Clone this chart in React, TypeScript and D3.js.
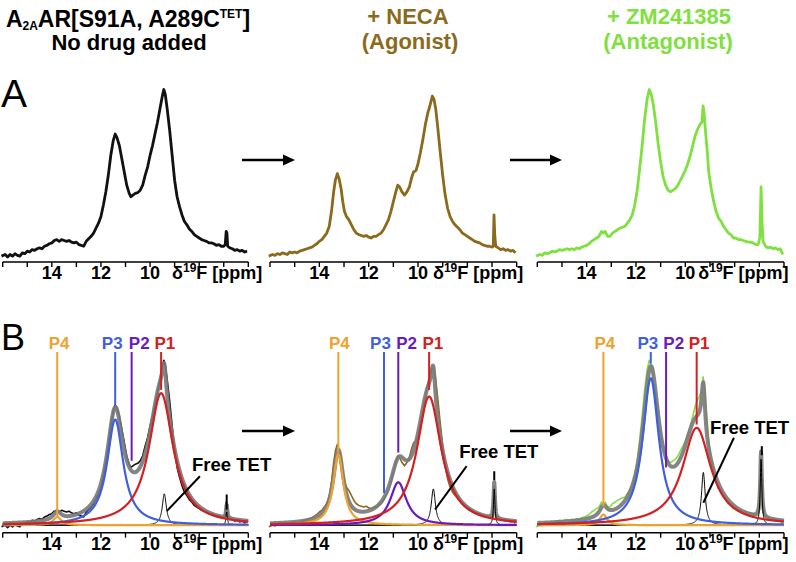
import React from 'react';
import * as d3 from 'd3';

type Pt = [number, number];

// chemical shift axis (ppm), drawn high -> low
const ppmTicks = [16, 15, 14, 13, 12, 11, 10, 9, 8, 7, 6];
const ppmTickLabels = [14, 12, 10];

// measured 19F spectra (ppm, normalised intensity)
const noDrugSpectrum: Pt[] = [
  [16.05, -0.01], [15.9, 0.0], [15.8, -0.015], [15.7, 0.0], [15.6, -0.01], [15.5, 0.005], [15.4, -0.005], [15.3, -0.01],
  [15.2, 0.01], [15.1, 0.005], [15.0, 0.02], [14.9, 0.015], [14.8, 0.03], [14.7, 0.025], [14.6, 0.035], [14.5, 0.04],
  [14.4, 0.035], [14.3, 0.05], [14.2, 0.055], [14.1, 0.065], [14.0, 0.07], [13.9, 0.085], [13.8, 0.09], [13.7, 0.08],
  [13.6, 0.09], [13.5, 0.085], [13.4, 0.08], [13.3, 0.085], [13.2, 0.075], [13.1, 0.07], [13.0, 0.075], [12.9, 0.06],
  [12.8, 0.055], [12.7, 0.05], [12.6, 0.08], [12.5, 0.095], [12.4, 0.11], [12.3, 0.13], [12.2, 0.16], [12.1, 0.19],
  [12.0, 0.23], [11.9, 0.3], [11.8, 0.38], [11.7, 0.48], [11.6, 0.6], [11.5, 0.69], [11.42, 0.73], [11.35, 0.71],
  [11.25, 0.66], [11.15, 0.58], [11.05, 0.5], [10.95, 0.42], [10.85, 0.37], [10.78, 0.35], [10.7, 0.36], [10.6, 0.37],
  [10.5, 0.375], [10.4, 0.39], [10.3, 0.42], [10.2, 0.48], [10.1, 0.53], [10.0, 0.6], [9.9, 0.66], [9.8, 0.73],
  [9.7, 0.8], [9.6, 0.88], [9.5, 0.96], [9.44, 1.0], [9.38, 0.97], [9.3, 0.88], [9.2, 0.75], [9.1, 0.6],
  [9.0, 0.45], [8.9, 0.35], [8.8, 0.29], [8.7, 0.24], [8.6, 0.2], [8.5, 0.18], [8.4, 0.155], [8.3, 0.14],
  [8.2, 0.12], [8.1, 0.11], [8.0, 0.1], [7.9, 0.09], [7.8, 0.085], [7.7, 0.08], [7.6, 0.07], [7.5, 0.07],
  [7.4, 0.065], [7.3, 0.055], [7.2, 0.06], [7.1, 0.05], [7.0, 0.05], [6.94, 0.06], [6.9, 0.14], [6.87, 0.13],
  [6.84, 0.05], [6.75, 0.04], [6.65, 0.035], [6.55, 0.025], [6.45, 0.03], [6.35, 0.02], [6.25, 0.025], [6.15, 0.015],
  [6.05, 0.02],
];

const necaSpectrum: Pt[] = [
  [16.05, -0.01], [15.9, 0.0], [15.8, -0.005], [15.7, 0.005], [15.6, 0.0], [15.5, 0.01], [15.4, 0.005], [15.3, 0.0],
  [15.2, 0.015], [15.1, 0.01], [15.0, 0.015], [14.9, 0.01], [14.8, 0.02], [14.7, 0.025], [14.6, 0.03], [14.5, 0.035],
  [14.4, 0.04], [14.3, 0.045], [14.2, 0.055], [14.1, 0.065], [14.0, 0.08], [13.9, 0.09], [13.8, 0.11], [13.7, 0.13],
  [13.6, 0.17], [13.5, 0.27], [13.42, 0.38], [13.35, 0.45], [13.27, 0.49], [13.2, 0.46], [13.12, 0.4], [13.05, 0.32],
  [12.98, 0.26], [12.9, 0.23], [12.8, 0.21], [12.7, 0.18], [12.6, 0.15], [12.5, 0.13], [12.4, 0.12], [12.3, 0.115],
  [12.2, 0.11], [12.1, 0.115], [12.0, 0.105], [11.9, 0.1], [11.8, 0.11], [11.7, 0.11], [11.6, 0.12], [11.5, 0.13],
  [11.4, 0.15], [11.3, 0.18], [11.2, 0.21], [11.1, 0.26], [11.0, 0.32], [10.9, 0.38], [10.82, 0.42], [10.75, 0.41],
  [10.65, 0.38], [10.55, 0.36], [10.45, 0.38], [10.35, 0.41], [10.25, 0.47], [10.18, 0.5], [10.08, 0.51], [10.0, 0.55],
  [9.9, 0.62], [9.8, 0.7], [9.7, 0.79], [9.6, 0.86], [9.52, 0.9], [9.42, 0.96], [9.35, 0.94], [9.28, 0.88],
  [9.2, 0.77], [9.1, 0.62], [9.0, 0.48], [8.9, 0.36], [8.8, 0.28], [8.7, 0.23], [8.6, 0.2], [8.5, 0.18],
  [8.4, 0.165], [8.3, 0.15], [8.2, 0.13], [8.1, 0.12], [8.0, 0.11], [7.9, 0.1], [7.8, 0.09], [7.7, 0.08],
  [7.6, 0.075], [7.5, 0.07], [7.4, 0.06], [7.3, 0.055], [7.2, 0.05], [7.1, 0.05], [7.0, 0.045], [6.95, 0.05],
  [6.92, 0.24], [6.89, 0.12], [6.85, 0.05], [6.75, 0.04], [6.65, 0.03], [6.55, 0.035], [6.45, 0.025], [6.35, 0.03],
  [6.25, 0.02], [6.15, 0.025], [6.05, 0.01],
];

const zmSpectrum: Pt[] = [
  [16.05, -0.01], [15.9, 0.0], [15.8, -0.005], [15.7, 0.01], [15.6, 0.005], [15.5, 0.01], [15.4, 0.02], [15.3, 0.015],
  [15.2, 0.02], [15.1, 0.03], [15.0, 0.025], [14.9, 0.03], [14.8, 0.035], [14.7, 0.03], [14.6, 0.035], [14.5, 0.03],
  [14.4, 0.04], [14.3, 0.035], [14.2, 0.045], [14.1, 0.05], [14.0, 0.055], [13.9, 0.065], [13.8, 0.08], [13.7, 0.09],
  [13.6, 0.1], [13.5, 0.11], [13.4, 0.14], [13.33, 0.13], [13.25, 0.14], [13.15, 0.11], [13.06, 0.11], [12.95, 0.13],
  [12.85, 0.14], [12.75, 0.15], [12.65, 0.16], [12.55, 0.165], [12.45, 0.17], [12.35, 0.19], [12.25, 0.21], [12.15, 0.24],
  [12.05, 0.3], [11.95, 0.39], [11.85, 0.52], [11.75, 0.66], [11.65, 0.82], [11.55, 0.94], [11.46, 1.0], [11.38, 0.97],
  [11.3, 0.91], [11.2, 0.8], [11.1, 0.67], [11.0, 0.56], [10.9, 0.47], [10.8, 0.42], [10.7, 0.39], [10.6, 0.38],
  [10.5, 0.39], [10.4, 0.4], [10.3, 0.42], [10.2, 0.45], [10.1, 0.48], [10.0, 0.51], [9.9, 0.55], [9.8, 0.6],
  [9.7, 0.66], [9.6, 0.72], [9.5, 0.76], [9.4, 0.79], [9.33, 0.8], [9.28, 0.9], [9.24, 0.86], [9.19, 0.76],
  [9.12, 0.64], [9.05, 0.5], [8.95, 0.4], [8.85, 0.32], [8.75, 0.26], [8.65, 0.22], [8.55, 0.2], [8.45, 0.17],
  [8.35, 0.15], [8.25, 0.13], [8.15, 0.12], [8.05, 0.1], [7.95, 0.1], [7.85, 0.09], [7.75, 0.09], [7.65, 0.085],
  [7.55, 0.08], [7.45, 0.075], [7.35, 0.075], [7.25, 0.07], [7.15, 0.06], [7.05, 0.06], [6.98, 0.1], [6.93, 0.41],
  [6.89, 0.2], [6.85, 0.08], [6.75, 0.05], [6.65, 0.04], [6.55, 0.045], [6.45, 0.035], [6.35, 0.04], [6.25, 0.03],
  [6.15, 0.035], [6.05, 0.0],
];

// Lorentzian deconvolution: P4, P3, P2, P1 (center ppm, height, half width)
const fitNames = ['P4', 'P3', 'P2', 'P1'];
const noDrugCenters = [13.78, 11.42, 10.75, 9.55];
const noDrugHeights = [0.05, 0.64, 0, 0.8];
const noDrugWidths = [0.2, 0.4, 0.4, 0.6];
const noDrugLabelEnds = [0.05, 0.73, 0.39, 0.82];
const noDrugLabelPpm = [13.7, 11.54, 10.44, 9.4];
const noDrugTet = [[9.42, 0.19, 0.1], [6.88, 0.08, 0.035]];

const necaCenters = [13.23, 11.38, 10.8, 9.55];
const necaHeights = [0.43, 0, 0.26, 0.78];
const necaWidths = [0.25, 0.4, 0.4, 0.6];
const necaLabelEnds = [0.44, 0.195, 0.44, 0.82];
const necaLabelPpm = [13.19, 11.52, 10.46, 9.4];
const necaTet = [[9.38, 0.22, 0.1], [6.91, 0.22, 0.035]];

const zmCenters = [13.32, 11.4, 10.78, 9.54];
const zmHeights = [0.065, 0.89, 0, 0.59];
const zmWidths = [0.18, 0.4, 0.4, 0.7];
const zmLabelEnds = [0.115, 0.98, 0.35, 0.61];
const zmLabelPpm = [13.26, 11.52, 10.47, 9.44];
const zmTet = [[9.27, 0.32, 0.09], [6.93, 0.4, 0.04]];

// "Free TET" annotation: text anchor, pointer from/to, tick from/to (ppm, intensity)
const tetText = [[8.29, 0.33], [8.33, 0.41], [9.0, 0.55]];
const tetPointer = [[7.97, 0.297, 9.32, 0.085], [8.03, 0.358, 9.31, 0.095], [8.03, 0.53, 9.27, 0.136]];
const tetTick = [[6.88, 0.186, 0.095], [6.91, 0.327, 0.273], [6.9, 0.479, 0.424]];

const fitColors = ['#f0a22e', '#3f5fe0', '#6a1bbf', '#d42020'];
const traceColors = ['#111111', '#8c6a1c', '#80e040'];
const font = "'Liberation Sans', Arial, sans-serif";

const panelX: [number, number][] = [[2.7, 248.3], [270, 516.7], [537.3, 784]];
const unitGap = [22, 15, 13];
const rowAxisY = [262, 532.7];

const lorentz = (x: number, c: number, h: number, w: number) => h / (1 + ((x - c) / w) ** 2);
const grid = d3.range(16, 5.999, -0.005);

function Axis({ x, y, gap }: { x: d3.ScaleLinear<number, number>; y: number; gap: number }) {
  return (
    <g>
      <line x1={x(16)} x2={x(6)} y1={y} y2={y} stroke="#000" strokeWidth={1.6} />
      {ppmTicks.map(t => (
        <line key={t} x1={x(t)} x2={x(t)} y1={y} y2={y + 5} stroke="#000" strokeWidth={1.4} />
      ))}
      {ppmTickLabels.map(t => (
        <text key={t} x={x(t)} y={y + 17} textAnchor="middle" fontSize={18} fontWeight="bold" fontFamily={font}>{t}</text>
      ))}
      <text x={x(10) + gap} y={y + 17} fontSize={18} fontWeight="bold" fontFamily={font}>
        δ<tspan fontSize={12} dy={-7}>19</tspan><tspan dy={7}>F [ppm]</tspan>
      </text>
    </g>
  );
}

function Arrow({ x1, x2, y }: { x1: number; x2: number; y: number }) {
  return (
    <g>
      <line x1={x1} x2={x2 - 9} y1={y} y2={y} stroke="#000" strokeWidth={2.4} />
      <path d={`M${x2},${y} L${x2 - 12},${y - 5.5} L${x2 - 12},${y + 5.5} Z`} fill="#000" />
    </g>
  );
}

const panels = [
  { spec: noDrugSpectrum, c: noDrugCenters, h: noDrugHeights, w: noDrugWidths, ends: noDrugLabelEnds, lab: noDrugLabelPpm, tet: noDrugTet },
  { spec: necaSpectrum, c: necaCenters, h: necaHeights, w: necaWidths, ends: necaLabelEnds, lab: necaLabelPpm, tet: necaTet },
  { spec: zmSpectrum, c: zmCenters, h: zmHeights, w: zmWidths, ends: zmLabelEnds, lab: zmLabelPpm, tet: zmTet },
];

export default function App() {
  return (
    <svg width={796} height={562} style={{ position: 'absolute', left: 0, top: 0, background: '#fff' }}>
      {/* titles */}
      <text x={128} y={27} textAnchor="middle" fontSize={23} fontWeight="bold" fontFamily={font}>
        A<tspan fontSize={12} dy={3}>2A</tspan><tspan dy={-3}>AR[S91A, A289C</tspan><tspan fontSize={12} dy={-9}>TET</tspan><tspan dy={9}>]</tspan>
      </text>
      <text x={129} y={50} textAnchor="middle" fontSize={22} fontWeight="bold" fontFamily={font}>No drug added</text>
      <text x={408} y={24} textAnchor="middle" fontSize={22} fontWeight="bold" fontFamily={font} fill={traceColors[1]}>+ NECA</text>
      <text x={410} y={49} textAnchor="middle" fontSize={22} fontWeight="bold" fontFamily={font} fill={traceColors[1]}>(Agonist)</text>
      <text x={669} y={24} textAnchor="middle" fontSize={22} fontWeight="bold" fontFamily={font} fill={traceColors[2]}>+ ZM241385</text>
      <text x={668} y={49} textAnchor="middle" fontSize={22} fontWeight="bold" fontFamily={font} fill={traceColors[2]}>(Antagonist)</text>

      <text x={1} y={107} fontSize={39} fontFamily={font}>A</text>
      <text x={1} y={350} fontSize={36} fontFamily={font}>B</text>

      <Arrow x1={242} x2={295} y={160} />
      <Arrow x1={510} x2={562} y={160} />
      <Arrow x1={242} x2={295} y={431} />
      <Arrow x1={510} x2={562} y={431} />

      {panels.map((p, i) => {
        const x = d3.scaleLinear().domain([16, 6]).range(panelX[i]);
        const yA = d3.scaleLinear().domain([0, 1]).range([rowAxisY[0] - 7.5, rowAxisY[0] - 172.5]);
        const yB = d3.scaleLinear().domain([0, 1]).range([rowAxisY[1] - 7.5, rowAxisY[1] - 172.5]);
        const lineA = d3.line<Pt>().x(d => x(d[0])).y(d => yA(d[1]));
        const lineB = d3.line<Pt>().x(d => x(d[0])).y(d => yB(d[1]));

        const comps = p.c.map((c, k) => grid.map(g => [g, lorentz(g, c, p.h[k], p.w[k])] as Pt));
        const tets = p.tet.map(t => grid.map(g => [g, lorentz(g, t[0], t[1], t[2])] as Pt));
        const sum: Pt[] = grid.map((g, j) => [g, d3.sum(comps, s => s[j][1]) + d3.sum(tets, s => s[j][1])]);

        return (
          <g key={i}>
            {/* A row: raw spectrum */}
            <path d={lineA(p.spec) ?? ''} fill="none" stroke={traceColors[i]} strokeWidth={2.8} strokeLinejoin="round" />
            <Axis x={x} y={rowAxisY[0]} gap={unitGap[i]} />

            {/* B row: spectrum with deconvolution */}
            <path d={lineB(p.spec) ?? ''} fill="none" stroke={traceColors[i]} strokeWidth={1.6} strokeLinejoin="round" />
            <line x1={x(16)} x2={x(6)} y1={yB(0)} y2={yB(0)} stroke="#8a6420" strokeWidth={1} />
            <path d={lineB(sum) ?? ''} fill="none" stroke="#7b7b7b" strokeOpacity={0.92} strokeWidth={4} strokeLinejoin="round" />
            {tets.map((t, k) => (
              <path key={'t' + k} d={lineB(t) ?? ''} fill="none" stroke="#000" strokeWidth={1} />
            ))}
            {comps.map((cp, k) => p.h[k] > 0 && (
              <path key={'c' + k} d={lineB(cp) ?? ''} fill="none" stroke={fitColors[k]} strokeWidth={2.2} />
            ))}
            {fitNames.map((n, k) => (
              <g key={n}>
                <line x1={x(p.c[k])} x2={x(p.c[k])} y1={352} y2={yB(p.ends[k])} stroke={fitColors[k]} strokeWidth={2} />
                <text x={x(p.lab[k])} y={349} textAnchor="middle" fontSize={17} fontWeight="bold" fontFamily={font} fill={fitColors[k]}>{n}</text>
              </g>
            ))}
            <text x={x(tetText[i][0])} y={yB(tetText[i][1])} fontSize={18.5} fontWeight="bold" fontFamily={font}>Free TET</text>
            <line x1={x(tetPointer[i][0])} y1={yB(tetPointer[i][1])} x2={x(tetPointer[i][2])} y2={yB(tetPointer[i][3])} stroke="#000" strokeWidth={2} />
            <line x1={x(tetTick[i][0])} y1={yB(tetTick[i][1])} x2={x(tetTick[i][0])} y2={yB(tetTick[i][2])} stroke="#000" strokeWidth={2} />
            <Axis x={x} y={rowAxisY[1]} gap={unitGap[i]} />
          </g>
        );
      })}
    </svg>
  );
}
